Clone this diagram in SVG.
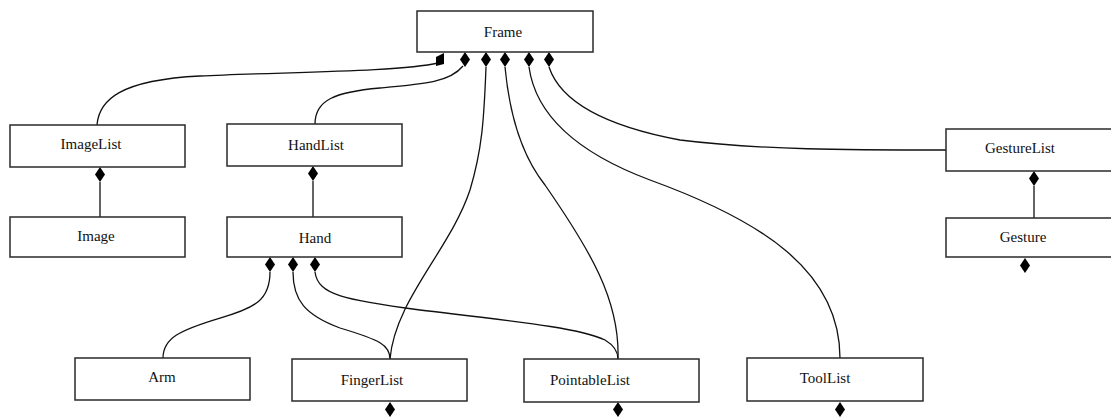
<svg xmlns="http://www.w3.org/2000/svg" xmlns:xlink="http://www.w3.org/1999/xlink" width="1111" height="418" viewBox="0 0 1111 418">
<style>
.box{fill:#fff;stroke:#2a2a2a;stroke-width:1.5}
.lbl{font-family:"Liberation Serif","Times New Roman",serif;font-size:15px;fill:#111;text-anchor:middle}
.c{fill:none;stroke:#111;stroke-width:1.3}
.dm{fill:#000}
</style>
<defs>
<path id="d" d="M0,0 L5,7.5 L0,15 L-5,7.5 Z"/>
</defs>
<rect width="1111" height="418" fill="#fff"/>
<g id="connectors">
<path class="c" d="M97,125 C99,100 120,80 200,76 S400,72 438,63"/>
<path class="c" d="M315,124 C315,100 335,92 380,88 S450,82 463,66"/>
<path class="c" d="M486,67 C484,120 482,150 470,190 C450,250 395,300 390,359"/>
<path class="c" d="M505,67 C510,120 525,160 545,185 C590,250 620,300 618,359"/>
<path class="c" d="M529,67 C535,110 570,150 650,180 C760,220 840,270 840,358"/>
<path class="c" d="M549,67 C560,100 600,125 680,140 C760,150 850,150 946,150"/>
<path class="c" d="M100,182 L100,217"/>
<path class="c" d="M313,181 L313,217"/>
<path class="c" d="M1034,186 L1034,218"/>
<path class="c" d="M270,272 C270,300 255,308 220,318 C180,330 163,338 163,358"/>
<path class="c" d="M293,272 C293,300 305,315 340,328 C380,340 390,345 390,359"/>
<path class="c" d="M315,272 C318,295 345,300 420,310 C520,322 580,328 605,340 C615,346 618,352 618,359"/>
<polygon class="dm" points="436,57 444,53 444,64 436,66"/>
<use href="#d" class="dm" x="465" y="52"/>
<use href="#d" class="dm" x="486" y="52"/>
<use href="#d" class="dm" x="505" y="52"/>
<use href="#d" class="dm" x="529" y="52"/>
<use href="#d" class="dm" x="549" y="52"/>
<use href="#d" class="dm" x="100" y="167"/>
<use href="#d" class="dm" x="313" y="166"/>
<use href="#d" class="dm" x="1034" y="171"/>
<use href="#d" class="dm" x="270" y="257"/>
<use href="#d" class="dm" x="293" y="257"/>
<use href="#d" class="dm" x="315" y="257"/>
<use href="#d" class="dm" x="1025" y="258"/>
<use href="#d" class="dm" x="390" y="402"/>
<use href="#d" class="dm" x="618" y="402"/>
<use href="#d" class="dm" x="840" y="402"/>
</g>
<g id="Frame"><rect class="box" x="417" y="11" width="176" height="41"/><text class="lbl" x="503" y="37">Frame</text></g>
<g id="ImageList"><rect class="box" x="10" y="125" width="175" height="42"/><text class="lbl" x="91" y="149">ImageList</text></g>
<g id="Image"><rect class="box" x="10" y="217" width="175" height="40"/><text class="lbl" x="96" y="241">Image</text></g>
<g id="HandList"><rect class="box" x="227" y="124" width="175" height="42"/><text class="lbl" x="316" y="150">HandList</text></g>
<g id="Hand"><rect class="box" x="227" y="217" width="175" height="40"/><text class="lbl" x="315" y="243">Hand</text></g>
<g id="GestureList"><rect class="box" x="946" y="129" width="180" height="42"/><text class="lbl" x="1020" y="153">GestureList</text></g>
<g id="Gesture"><rect class="box" x="946" y="218" width="180" height="39"/><text class="lbl" x="1023" y="242">Gesture</text></g>
<g id="Arm"><rect class="box" x="75" y="358" width="175" height="42"/><text class="lbl" x="162" y="382">Arm</text></g>
<g id="FingerList"><rect class="box" x="292" y="359" width="175" height="42"/><text class="lbl" x="372" y="385">FingerList</text></g>
<g id="PointableList"><rect class="box" x="524" y="359" width="175" height="43"/><text class="lbl" x="590" y="385">PointableList</text></g>
<g id="ToolList"><rect class="box" x="747" y="358" width="176" height="43"/><text class="lbl" x="825" y="383">ToolList</text></g>
</svg>
